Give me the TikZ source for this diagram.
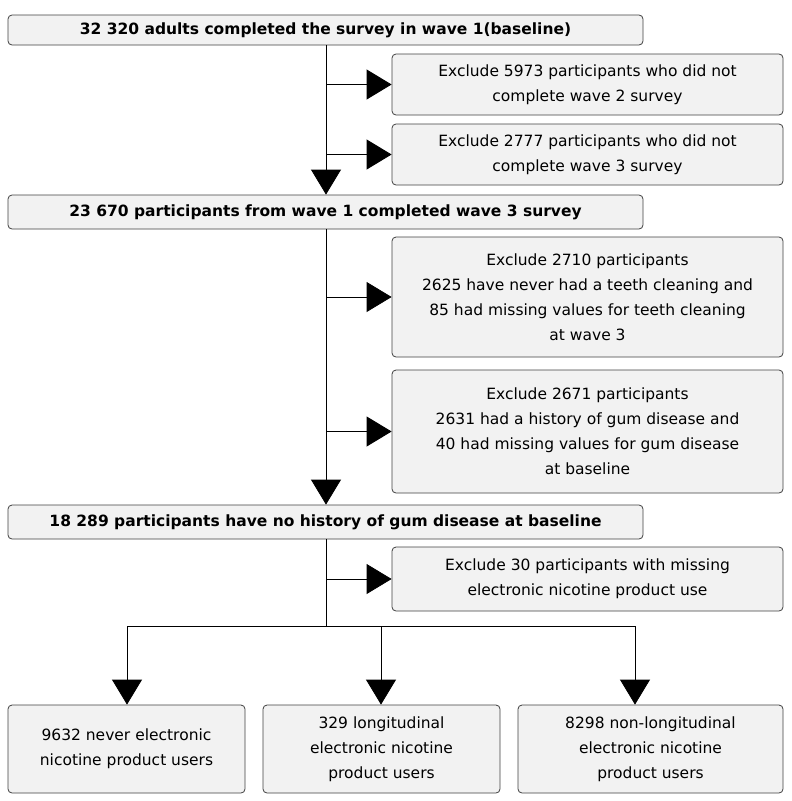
\documentclass[tikz,border=0pt]{standalone}
\usepackage{fontspec}
\setmainfont{DejaVu Sans}
\usetikzlibrary{arrows.meta}
\begin{document}
\begin{tikzpicture}[x=1pt,y=-1pt,
  box/.style={draw=black!75,fill=black!5,rounded corners=4pt,line width=0.8pt,align=center,font=\fontsize{15.5}{25}\selectfont,inner sep=0pt},
  main/.style={box,font=\fontsize{15.5}{25}\selectfont\bfseries},
  arr/.style={-{Triangle[length=25pt,width=30pt]},line width=0.8pt},
  ln/.style={line width=0.8pt}]
\useasboundingbox (0,0) rectangle (792,801);
\node[main,minimum width=635,minimum height=30] (b1) at (325.5,30) {32 320 adults completed the survey in wave 1(baseline)};
\node[box,minimum width=391,minimum height=61] (e1) at (587.5,84.5) {Exclude 5973 participants who did not\\complete wave 2 survey};
\node[box,minimum width=391,minimum height=61] (e2) at (587.5,154.5) {Exclude 2777 participants who did not\\complete wave 3 survey};
\node[main,minimum width=635,minimum height=34] (b2) at (325.5,212) {23 670 participants from wave 1 completed wave 3 survey};
\node[box,minimum width=391,minimum height=120] (e3) at (587.5,297) {Exclude 2710 participants\\2625 have never had a teeth cleaning and\\85 had missing values for teeth cleaning\\at wave 3};
\node[box,minimum width=391,minimum height=123] (e4) at (587.5,431.5) {Exclude 2671 participants\\2631 had a history of gum disease and\\40 had missing values for gum disease\\at baseline};
\node[main,minimum width=635,minimum height=34] (b3) at (325.5,522) {18 289 participants have no history of gum disease at baseline};
\node[box,minimum width=391,minimum height=64] (e5) at (587.5,579) {Exclude 30 participants with missing\\electronic nicotine product use};
\node[box,minimum width=237,minimum height=88] (f1) at (126.5,749) {9632 never electronic\\nicotine product users};
\node[box,minimum width=237,minimum height=88] (f2) at (381.5,749) {329 longitudinal\\electronic nicotine\\product users};
\node[box,minimum width=265,minimum height=88] (f3) at (650.5,749) {8298 non-longitudinal\\electronic nicotine\\product users};
\coordinate (s) at (326,626);
\coordinate (l) at (127,626);
\coordinate (m) at (381,626);
\coordinate (r) at (635,626);
\draw[arr] (b1.south -| 326,0) -- (b2.north -| 326,0);
\draw[arr] (b2.south -| 326,0) -- (b3.north -| 326,0);
\draw[ln] (b3.south -| 326,0) -- (s);
\draw[arr] (326,84.5) -- (e1.west);
\draw[arr] (326,154.5) -- (e2.west);
\draw[arr] (326,297) -- (e3.west);
\draw[arr] (326,431.5) -- (e4.west);
\draw[arr] (326,579) -- (e5.west);
\draw[ln] (l) -- (r);
\draw[arr] (l) -- (f1.north -| l);
\draw[arr] (m) -- (f2.north -| m);
\draw[arr] (r) -- (f3.north -| r);
\end{tikzpicture}
\end{document}
